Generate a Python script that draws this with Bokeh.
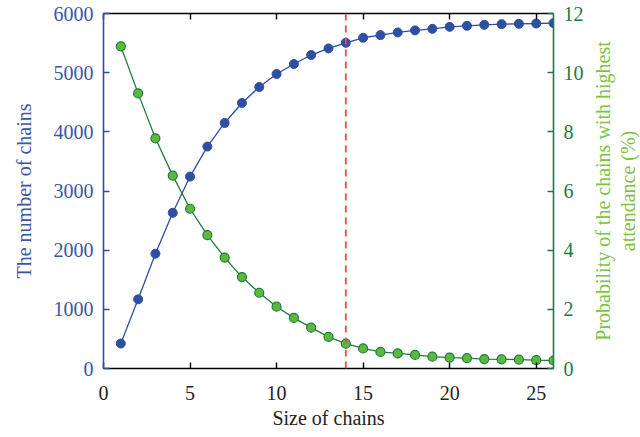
from bokeh.plotting import figure
from bokeh.layouts import row
from bokeh.models import LinearAxis, Range1d, Span, FixedTicker, ColumnDataSource
from bokeh.embed import file_html
from bokeh.resources import INLINE

sizes = list(range(1, 27))
chains = [422, 1169, 1940, 2632, 3244, 3751, 4150, 4488, 4758, 4977, 5146, 5298, 5410,
          5505, 5590, 5635, 5680, 5714, 5741, 5775, 5792, 5809, 5820, 5826, 5831, 5838]
prob = [10.89, 9.30, 7.78, 6.52, 5.40, 4.51, 3.75, 3.09, 2.56, 2.09, 1.71, 1.38, 1.07,
        0.84, 0.68, 0.56, 0.51, 0.46, 0.40, 0.37, 0.35, 0.32, 0.31, 0.30, 0.28, 0.27]
x_ticks = [0, 5, 10, 15, 20, 25]
left_ticks = [0, 1000, 2000, 3000, 4000, 5000, 6000]
right_ticks = [0, 2, 4, 6, 8, 10, 12]
threshold = 14
right_label_lines = ["Probability of the chains with highest", "attendance (%)"]

FONT = "Liberation Serif"
FS = "20px"
BLUE = "#2f4fa2"
BLUE_TXT = "#3b55a6"
GREEN_AX = "#1d7a44"
GREEN_LBL = "#7dc242"
GREEN_FILL = "#5cb83f"
GREEN_LINE = "#1f7d3c"

W, H = 590, 436
L, R, T, B = 103, 37, 13, 68

p = figure(width=W, height=H, output_backend="svg", toolbar_location=None,
           x_range=Range1d(0, 26), y_range=Range1d(0, 6000), x_axis_location=None,
           y_axis_location=None, min_border_left=L, min_border_right=R,
           min_border_top=T, min_border_bottom=B)
p.extra_y_ranges = {"prob": Range1d(0, 12)}
p.outline_line_color = None
p.xgrid.visible = False
p.ygrid.visible = False
p.background_fill_color = "white"

def style(ax, color, txtcolor):
    ax.axis_line_color = color
    ax.axis_line_width = 1.6
    ax.major_tick_line_color = color
    ax.major_tick_line_width = 1.4
    ax.major_tick_in = 6
    ax.major_tick_out = 0
    ax.minor_tick_line_color = None
    ax.major_label_text_font = FONT
    ax.major_label_text_font_size = FS
    ax.major_label_text_color = txtcolor
    ax.axis_label_text_font = FONT
    ax.axis_label_text_font_size = FS
    ax.axis_label_text_font_style = "normal"

xb = LinearAxis(ticker=FixedTicker(ticks=x_ticks), axis_label="Size of chains")
style(xb, "black", "#222222")
xb.axis_label_text_color = "#222222"
xb.major_label_standoff = 17
xb.axis_label_standoff = 4
p.add_layout(xb, "below")

xt = LinearAxis(ticker=FixedTicker(ticks=x_ticks))
style(xt, "black", "black")
xt.major_label_text_font_size = "0px"
xt.major_label_text_alpha = 0
xt.major_label_standoff = 0
p.add_layout(xt, "above")

yl = LinearAxis(ticker=FixedTicker(ticks=left_ticks), axis_label="The number of chains")
style(yl, BLUE, BLUE_TXT)
yl.axis_label_text_color = BLUE_TXT
yl.major_label_standoff = 10
yl.axis_label_standoff = 16
p.add_layout(yl, "left")

yr = LinearAxis(y_range_name="prob", ticker=FixedTicker(ticks=right_ticks))
style(yr, GREEN_AX, GREEN_AX)
yr.major_label_standoff = 10
p.add_layout(yr, "right")

src = ColumnDataSource(dict(x=sizes, c=chains, pr=prob))

p.add_layout(Span(location=threshold, dimension="height", line_color="#f44848",
                  line_dash="7 5", line_width=1.8))

p.line("x", "c", source=src, line_color=BLUE, line_width=1.3)
p.scatter("x", "c", source=src, size=9, fill_color=BLUE, line_color=BLUE)

p.line("x", "pr", source=src, y_range_name="prob", line_color=GREEN_LINE, line_width=1.3)
p.scatter("x", "pr", source=src, y_range_name="prob", size=9, fill_color=GREEN_FILL,
          line_color=GREEN_LINE, line_width=1.2)

# narrow companion figure carrying the right-hand title (two lines, bottom-to-top)
p2 = figure(width=48, height=H, output_backend="svg", toolbar_location=None,
            x_range=Range1d(0, 1), y_range=Range1d(0, 1), x_axis_location=None,
            y_axis_location=None, min_border_left=44, min_border_right=0,
            min_border_top=T, min_border_bottom=B)
p2.outline_line_color = None
p2.xgrid.visible = False
p2.ygrid.visible = False
for txt in reversed(right_label_lines):
    ta = LinearAxis(ticker=FixedTicker(ticks=[]), axis_label=txt)
    ta.axis_line_color = None
    ta.major_tick_line_color = None
    ta.minor_tick_line_color = None
    ta.major_tick_in = 0
    ta.major_tick_out = 0
    ta.major_label_text_font_size = "0px"
    ta.major_label_standoff = 0
    ta.axis_label_standoff = 0
    ta.axis_label_text_font = FONT
    ta.axis_label_text_font_size = FS
    ta.axis_label_text_font_style = "normal"
    ta.axis_label_text_color = GREEN_LBL
    p2.add_layout(ta, "left")
p2.scatter([0.5], [0.5], size=0, alpha=0)

layout = row(p, p2, spacing=0)
open("out.html", "w").write(file_html(layout, INLINE))
